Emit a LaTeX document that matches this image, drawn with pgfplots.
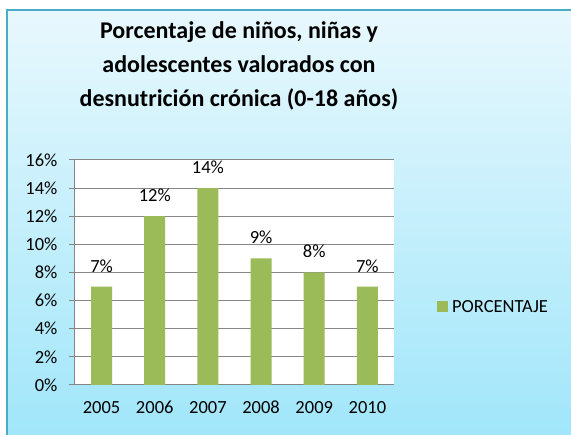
\documentclass[border=0pt]{standalone}
\usepackage{pgfplots}
\pgfplotsset{compat=1.18}
\usepackage{fontspec}
\setmainfont{Carlito}
\definecolor{barg}{HTML}{9BBB59}
\definecolor{bgtop}{RGB}{232,248,253}
\definecolor{bgbot}{RGB}{160,230,250}
\definecolor{bord}{RGB}{75,172,198}
\definecolor{gridc}{RGB}{134,134,134}
\begin{document}
\begin{tikzpicture}[x=1pt,y=1pt]
\useasboundingbox (0,0) rectangle (571,435);
\begin{scope}
\clip (0,0) rectangle (571,435);
\fill[white] (0,0) rectangle (571,435);
\shade[top color=bgtop, bottom color=bgbot] (7,-5) rectangle (580,425);
\draw[bord, line width=1.5pt] (7,-5) -- (7,425) -- (580,425);
\end{scope}
\node[align=center, font=\bfseries\fontsize{24}{34}\selectfont] at (239,369) {Porcentaje de niños, niñas y\\adolescentes valorados con\\desnutrición crónica (0-18 años)};
\begin{axis}[
  at={(75pt,50pt)}, anchor=south west, scale only axis,
  width=319pt, height=225pt,
  ybar, bar width=21pt,
  xmin=-0.5, xmax=5.5, ymin=0, ymax=16,
  axis background/.style={fill=white},
  axis x line*=bottom, axis y line*=left,
  axis line style={gridc, line width=1pt, -},
  ytick={0,2,...,16},
  yticklabel={\pgfmathprintnumber{\tick}\%},
  ymajorgrids, grid style={gridc, line width=1pt},
  xtick={0,...,5}, xticklabels={2005,2006,2007,2008,2009,2010},
  x tick style={draw=none},
  y tick style={gridc, line width=1pt},
  extra x ticks={-0.5,0.5,1.5,2.5,3.5,4.5,5.5},
  extra x tick labels={},
  extra x tick style={grid=none, tick style={gridc, line width=1pt}},
  tick align=outside, major tick length=6pt,
  /pgf/number format/assume math mode=true,
  ticklabel style={font=\fontsize{18.5}{20}\selectfont, text=black},
  xticklabel style={yshift=-7pt, text height=12pt, text depth=0pt},
  yticklabel style={xshift=-8pt},
  nodes near coords={\pgfmathprintnumber{\pgfplotspointmeta}\%},
  nodes near coords style={font=\fontsize{18.5}{20}\selectfont, text=black, yshift=11pt, text height=12pt, text depth=0pt},
  legend style={at={(rel axis cs:1.125,0.347)}, anchor=west, draw=none, fill=none, font=\fontsize{18.5}{20}\selectfont},
  legend image code/.code={\fill[barg] (0pt,-5.5pt) rectangle (11pt,5.5pt);},
  legend cell align=left,
]
\addplot[fill=barg, draw=none] coordinates {(0,7) (1,12) (2,14) (3,9) (4,8) (5,7)};
\addlegendentry{\hspace{2pt}PORCENTAJE}
\end{axis}
\end{tikzpicture}
\end{document}
